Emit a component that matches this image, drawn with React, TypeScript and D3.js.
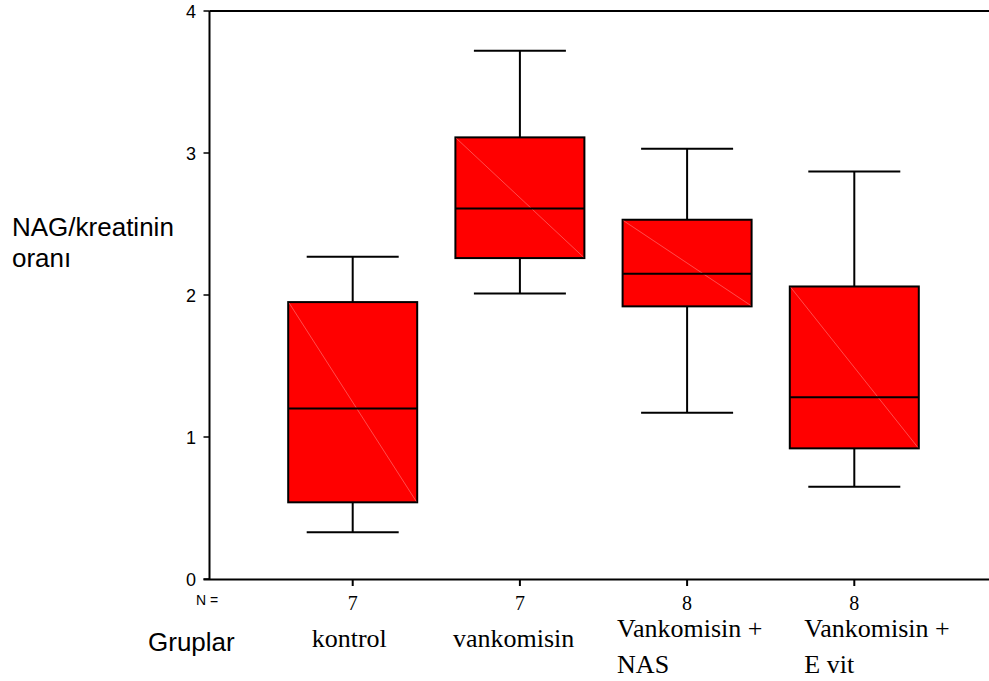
import React from 'react';
import * as d3 from 'd3';

const width = 989;
const height = 681;

// group data
const groups = ['kontrol', 'vankomisin', 'Vankomisin + NAS', 'Vankomisin + E vit'];
const labelLines = [['kontrol'], ['vankomisin'], ['Vankomisin +', 'NAS'], ['Vankomisin +', 'E vit']];
const counts = [7, 7, 8, 8];
const whiskerLow = [0.33, 2.01, 1.17, 0.65];
const q1 = [0.54, 2.26, 1.92, 0.92];
const median = [1.2, 2.61, 2.15, 1.28];
const q3 = [1.95, 3.11, 2.53, 2.06];
const whiskerHigh = [2.27, 3.72, 3.03, 2.87];
const yTicks = [0, 1, 2, 3, 4];

const axisX = 209.5;
const labelDx = [-41, -67, -70, -50];

const App = () => {
  const y = d3.scaleLinear().domain([0, 4]).range([579, 11]);
  const x = d3.scalePoint<string>().domain(groups).range([352.7, 854.3]);

  const boxW = 129;
  const capW = 92;

  return (
    <svg
      width={width}
      height={height}
      style={{ position: 'absolute', left: 0, top: 0, background: '#fff' }}
    >
      {/* frame: left axis, top line, bottom axis */}
      <line x1={axisX} x2={axisX} y1={y(4)} y2={y(0)} stroke="#000" strokeWidth={2} />
      <line x1={axisX} x2={width} y1={y(4)} y2={y(4)} stroke="#000" strokeWidth={2} />
      <line x1={axisX - 6} x2={width} y1={y(0) + 0.5} y2={y(0) + 0.5} stroke="#000" strokeWidth={2} />

      {/* Y ticks */}
      {yTicks.map(t => (
        <g key={t}>
          <line x1={axisX - 6} x2={axisX} y1={y(t)} y2={y(t)} stroke="#000" strokeWidth={1.5} />
          <text
            x={196}
            y={y(t) + 6.5}
            fontSize={18}
            textAnchor="end"
            fontFamily="Liberation Sans, Arial, sans-serif"
          >
            {t}
          </text>
        </g>
      ))}

      {/* Y title */}
      <text x={12} y={236} fontSize={26} fontFamily="Liberation Sans, Arial, sans-serif">
        NAG/kreatinin
      </text>
      <text x={12} y={266.7} fontSize={26} fontFamily="Liberation Sans, Arial, sans-serif">
        oranı
      </text>

      {/* boxes */}
      {groups.map((g, i) => {
        const cx = x(g) as number;
        const left = cx - boxW / 2;
        const right = cx + boxW / 2;
        return (
          <g key={g}>
            <line x1={cx} x2={cx} y1={y(whiskerHigh[i])} y2={y(q3[i])} stroke="#000" strokeWidth={2} />
            <line x1={cx} x2={cx} y1={y(q1[i])} y2={y(whiskerLow[i])} stroke="#000" strokeWidth={2} />
            <line x1={cx - capW / 2} x2={cx + capW / 2} y1={y(whiskerHigh[i])} y2={y(whiskerHigh[i])} stroke="#000" strokeWidth={2} />
            <line x1={cx - capW / 2} x2={cx + capW / 2} y1={y(whiskerLow[i])} y2={y(whiskerLow[i])} stroke="#000" strokeWidth={2} />
            <rect
              x={left}
              y={y(q3[i])}
              width={boxW}
              height={y(q1[i]) - y(q3[i])}
              fill="#ff0000"
              stroke="#000"
              strokeWidth={2}
            />
            <line x1={left + 1} x2={right - 1} y1={y(q3[i]) + 1} y2={y(q1[i]) - 1} stroke="#ff8080" strokeWidth={0.6} />
            <line x1={left} x2={right} y1={y(median[i])} y2={y(median[i])} stroke="#000" strokeWidth={2} />

            {/* x tick + N */}
            <line x1={cx} x2={cx} y1={y(0)} y2={y(0) + 7} stroke="#000" strokeWidth={2} />
            <text
              x={cx}
              y={610}
              fontSize={20}
              textAnchor="middle"
              fontFamily="Liberation Serif, Times New Roman, serif"
            >
              {counts[i]}
            </text>

            {/* category label */}
            {labelLines[i].map((line, j) => (
              <text
                key={j}
                x={cx + labelDx[i]}
                y={labelLines[i].length === 1 ? 646.7 : 637 + j * 36}
                fontSize={26}
                fontFamily="Liberation Serif, Times New Roman, serif"
              >
                {line}
              </text>
            ))}
          </g>
        );
      })}

      <text x={196} y={605} fontSize={14} fontFamily="Liberation Sans, Arial, sans-serif">
        N =
      </text>
      <text x={148} y={650.7} fontSize={26} fontFamily="Liberation Sans, Arial, sans-serif">
        Gruplar
      </text>
    </svg>
  );
};

export default App;
